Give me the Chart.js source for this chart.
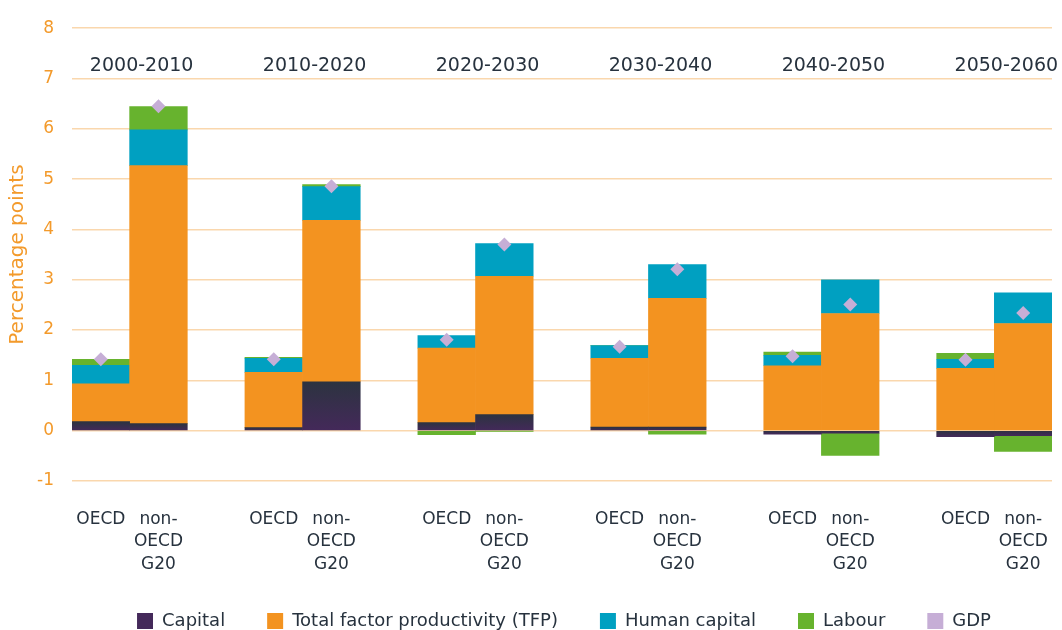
<!DOCTYPE html>
<html>
<head>
<meta charset="utf-8">
<script src="https://cdn.jsdelivr.net/npm/chart.js@4/dist/chart.umd.min.js"></script>
<style>
  html, body { margin: 0; padding: 0; background: #ffffff; overflow: hidden; }
  #wrap { position: relative; width: 1062px; height: 640px; }
</style>
</head>
<body>
<div id="wrap"><canvas id="c"></canvas></div>
<script>
// ---- Data ----
const periods = ['2000-2010', '2010-2020', '2020-2030', '2030-2040', '2040-2050', '2050-2060'];
const regionLabels = ['OECD', ['non-', 'OECD', 'G20']];

const capitalOECD    = [0.18, 0.06, 0.16, 0.07, -0.07, -0.12];
const capitalNonOECD = [0.14, 0.97, 0.32, 0.07, -0.05, -0.10];
const tfpOECD        = [0.75, 1.10, 1.48, 1.37, 1.29, 1.24];
const tfpNonOECD     = [5.13, 3.21, 2.75, 2.56, 2.33, 2.13];
const humanOECD      = [0.37, 0.28, 0.25, 0.25, 0.21, 0.18];
const humanNonOECD   = [0.71, 0.67, 0.65, 0.67, 0.67, 0.61];
const labourOECD     = [0.12, 0.02, -0.08, 0.00, 0.06, 0.12];
const labourNonOECD  = [0.46, 0.04, -0.01, -0.07, -0.44, -0.31];
const gdpOECD        = [1.42, 1.42, 1.81, 1.67, 1.48, 1.41];
const gdpNonOECD     = [6.45, 4.86, 3.70, 3.21, 2.51, 2.34];

const yTicks = [-1, 0, 1, 2, 3, 4, 5, 6, 7, 8];

// ---- Build category slots: OECD, non-OECD, gap ... ----
const labels = [];
const groupSlots = [];
periods.forEach((p, i) => {
  groupSlots.push(labels.length);
  labels.push(regionLabels[0]);
  labels.push(regionLabels[1]);
  if (i < periods.length - 1) labels.push('');
});
function spread(oecd, non) {
  const out = [];
  periods.forEach((p, i) => {
    out.push(oecd[i]);
    out.push(non[i]);
    if (i < periods.length - 1) out.push(null);
  });
  return out;
}

const ORANGE_TXT = '#f39a2b';
const DARK_TXT = '#27323e';
const FONT = "'DejaVu Sans', sans-serif";

function capitalColor(ctx) {
  const chart = ctx.chart;
  if (!chart.chartArea || ctx.type !== 'data' || ctx.raw == null) return '#35304a';
  const y = chart.scales.y;
  const a = y.getPixelForValue(Math.max(ctx.raw, 0));
  const b = y.getPixelForValue(Math.min(ctx.raw, 0));
  if (!isFinite(a) || !isFinite(b) || Math.abs(b - a) < 1) return '#35304a';
  const g = chart.ctx.createLinearGradient(0, a, 0, b);
  g.addColorStop(0, '#2c3340');
  g.addColorStop(1, '#44295a');
  return g;
}

const groupLabelPlugin = {
  id: 'groupLabels',
  afterDatasetsDraw(chart) {
    const x = chart.scales.x, y = chart.scales.y, c = chart.ctx;
    c.save();
    c.font = "19px " + FONT;
    c.fillStyle = DARK_TXT;
    c.textAlign = 'center';
    c.textBaseline = 'middle';
    periods.forEach((p, i) => {
      const s = groupSlots[i];
      const cx = (x.getPixelForValue(s) + x.getPixelForValue(s + 1)) / 2 + 12;
      c.fillText(p, cx, y.getPixelForValue(7.24));
    });
    c.restore();
  }
};

const legendShift = {
  id: 'legendShift',
  afterLayout(chart) {
    if (chart.legend) { chart.legend.left += 38; chart.legend.right += 38; }
  }
};

new Chart(document.getElementById('c'), {
  type: 'bar',
  data: {
    labels: labels,
    datasets: [
      { label: 'Capital', data: spread(capitalOECD, capitalNonOECD), backgroundColor: capitalColor, stack: 's', order: 1 },
      { label: 'Total factor productivity (TFP)', data: spread(tfpOECD, tfpNonOECD), backgroundColor: '#f39320', stack: 's', order: 1 },
      { label: 'Human capital', data: spread(humanOECD, humanNonOECD), backgroundColor: '#00a0c1', stack: 's', order: 1 },
      { label: 'Labour', data: spread(labourOECD, labourNonOECD), backgroundColor: '#67b32e', stack: 's', order: 1 },
      { type: 'line', label: 'GDP', data: spread(gdpOECD, gdpNonOECD), stack: 'gdp', order: 0,
        showLine: false, backgroundColor: '#c6aed6', borderColor: '#c6aed6', borderWidth: 0,
        pointStyle: 'rectRot', pointRadius: 7, pointHoverRadius: 7, pointBorderWidth: 0 }
    ]
  },
  options: {
    responsive: true,
    maintainAspectRatio: false,
    animation: false,
    layout: { padding: { top: 25, right: 10, left: 0, bottom: 0 } },
    datasets: { bar: { categoryPercentage: 1.0, barPercentage: 1.0, borderWidth: 0 } },
    plugins: {
      tooltip: { enabled: false },
      legend: {
        position: 'bottom',
        labels: {
          sort: (a, b) => a.datasetIndex - b.datasetIndex,
          boxWidth: 16, boxHeight: 16, padding: 42,
          color: DARK_TXT,
          font: { family: FONT, size: 18 }
        }
      }
    },
    scales: {
      x: {
        stacked: true,
        offset: true,
        grid: { display: false, drawTicks: false },
        border: { display: false },
        ticks: {
          autoSkip: false, maxRotation: 0, minRotation: 0,
          padding: 27, color: DARK_TXT,
          font: { family: FONT, size: 17, lineHeight: 1.33 }
        },
        afterFit(s) { s.height = 89; s.paddingLeft = 0; s.paddingRight = 0; }
      },
      y: {
        stacked: true,
        min: -1, max: 8,
        afterBuildTicks(s) { s.ticks = yTicks.map(v => ({ value: v })); },
        grid: { color: '#fad7ad', lineWidth: 1.5, drawTicks: false },
        border: { display: false },
        ticks: { padding: 18, color: ORANGE_TXT, font: { family: FONT, size: 17 } },
        title: { display: true, text: 'Percentage points', color: ORANGE_TXT, font: { family: FONT, size: 20 }, padding: { top: 6, bottom: 0 } },
        afterFit(s) { s.width = 72; }
      }
    }
  },
  plugins: [groupLabelPlugin, legendShift]
});
</script>
</body>
</html>
